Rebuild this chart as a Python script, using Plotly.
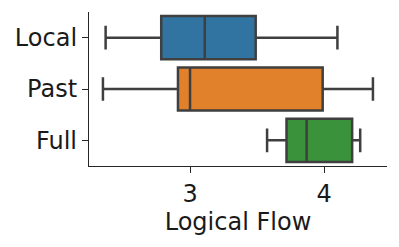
import plotly.graph_objects as go

categories = ["Local", "Past", "Full"]
lower = [2.37, 2.35, 3.575]
q1 = [2.785, 2.91, 3.72]
median = [3.11, 3.0, 3.87]
q3 = [3.49, 3.99, 4.21]
upper = [4.10, 4.365, 4.27]
colors = ["#3274a1", "#e1812c", "#3a923a"]

fig = go.Figure()
for i, c in enumerate(categories):
    fig.add_trace(go.Box(
        y=[c], q1=[q1[i]], median=[median[i]], q3=[q3[i]],
        lowerfence=[lower[i]], upperfence=[upper[i]],
        orientation="h", fillcolor=colors[i],
        line=dict(color="#3f3f3f", width=2.5),
        width=0.84, whiskerwidth=0.55, showlegend=False,
        hoverinfo="skip",
    ))

tf = dict(size=24, family="DejaVu Sans", color="#1a1a1a")
fig.update_layout(
    width=391, height=239,
    margin=dict(l=81, r=12, t=4, b=81, autoexpand=False),
    paper_bgcolor="white", plot_bgcolor="white",
    font=tf,
    boxmode="overlay",
)
fig.update_xaxes(
    range=[2.246, 4.47], tickvals=[3, 4], ticktext=["3", "4"],
    showline=True, linecolor="#262626", linewidth=1.3,
    ticks="outside", ticklen=6, tickwidth=1.3, tickcolor="#262626",
    showgrid=False, zeroline=False, automargin=False,
    tickfont=tf, ticklabelstandoff=0,
    title=dict(text="Logical Flow", standoff=2, font=tf),
)
fig.update_yaxes(
    type="category", categoryorder="array", categoryarray=categories,
    range=[2.5, -0.5], automargin=False,
    showline=True, linecolor="#262626", linewidth=1.3,
    ticks="outside", ticklen=6, tickwidth=1.3, tickcolor="#262626",
    showgrid=False, zeroline=False, ticklabelstandoff=0,
    tickfont=tf,
)

fig.write_html("out.html")
